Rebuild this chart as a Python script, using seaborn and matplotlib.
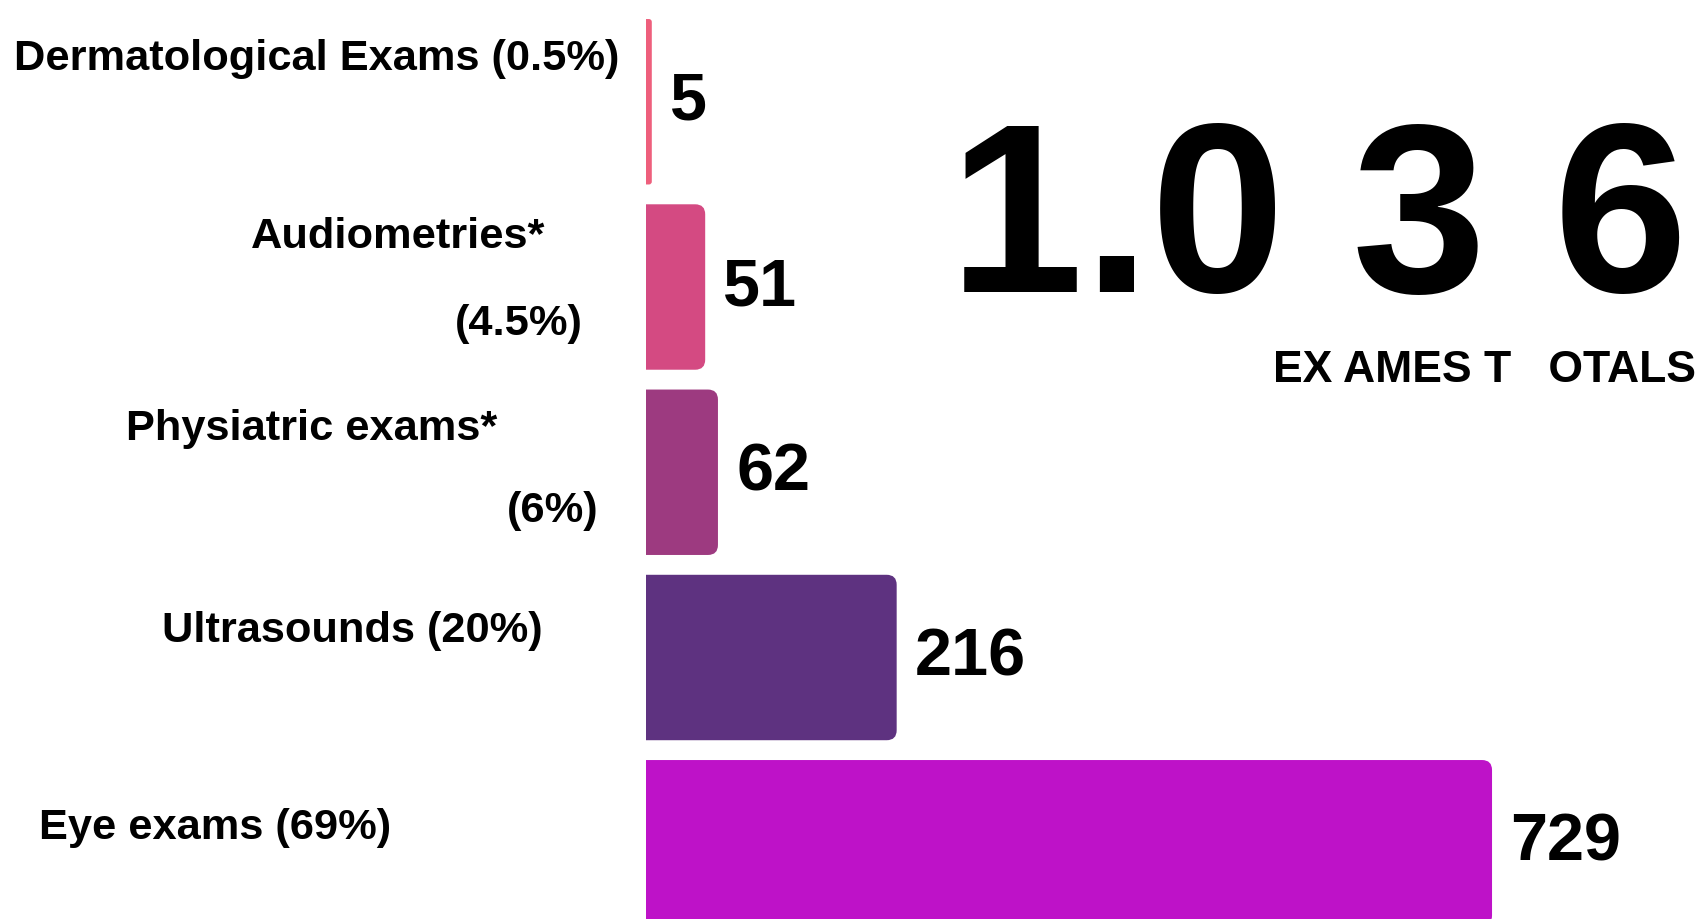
import matplotlib
matplotlib.use("Agg")
import matplotlib.pyplot as plt
import seaborn as sns
import pandas as pd
from matplotlib.patches import FancyBboxPatch

# data
categories = ["Dermatological Exams", "Audiometries", "Physiatric exams", "Ultrasounds", "Eye exams"]
counts = [5, 51, 62, 216, 729]
label_lines = [
    ["Dermatological Exams (0.5%)"],
    ["Audiometries*", "(4.5%)"],
    ["Physiatric exams*", "(6%)"],
    ["Ultrasounds (20%)"],
    ["Eye exams (69%)"],
]
bar_colors = ["#EE5F7C", "#D44A82", "#9D3A80", "#5E3280", "#BE12C8"]
total_text = "1.0 3 6"
total_caption = "EX AMES T   OTALS"

# label layout in pixels (x, baseline) for each line
label_pos = [
    [(14, 70)],
    [(251, 248), (455, 335)],
    [(126, 440), (507, 522)],
    [(162, 642)],
    [(39, 839)],
]

W, H = 1700, 920
sns.set_theme(style="white")
plt.rcParams["font.family"] = ["Liberation Sans", "DejaVu Sans"]

fig = plt.figure(figsize=(W / 100, H / 100), dpi=100, facecolor="white")
ax = fig.add_axes([646 / W, 0, 1 - 646 / W, 1])

df = pd.DataFrame({"category": categories, "count": counts})
sns.barplot(data=df, x="count", y="category", hue="category", order=categories,
            palette=bar_colors, width=0.893, saturation=1, legend=False, ax=ax)

ax.set_xlim(0, 908.2)
ax.set_ylim(4.4116, -0.5547)
ax.axis("off")

for cont in ax.containers:
    ax.bar_label(cont, padding=13, fontsize=48, fontweight="bold", color="black")

# rounded right corners, straight left edge
px_x = 1 / 1.1605
px_y = 1 / 185.25
r = 10 * px_x
aspect = (10 * px_y) / r
for p in list(ax.patches):
    x0, y0 = p.get_x(), p.get_y()
    w, h = p.get_width(), p.get_height()
    dr = min(r, w / 2)
    fb = FancyBboxPatch((x0 - dr, y0), w + dr, h,
                        boxstyle=f"round,pad=0,rounding_size={dr}",
                        mutation_aspect=aspect, fc=p.get_facecolor(), ec="none")
    p.set_visible(False)
    ax.add_patch(fb)

for lines, pos in zip(label_lines, label_pos):
    for txt, (x, y) in zip(lines, pos):
        fig.text(x / W, 1 - y / H, txt, fontsize=31.2, fontweight="bold",
                 ha="left", va="baseline", color="black")

fig.text(1318 / W, 1 - 292 / H, total_text, fontsize=174, fontweight="bold",
         ha="center", va="baseline", color="black")
fig.text(1696 / W, 1 - 382 / H, total_caption, fontsize=32, fontweight="bold",
         ha="right", va="baseline", color="black")

fig.savefig("out.png", dpi=100, facecolor="white")
